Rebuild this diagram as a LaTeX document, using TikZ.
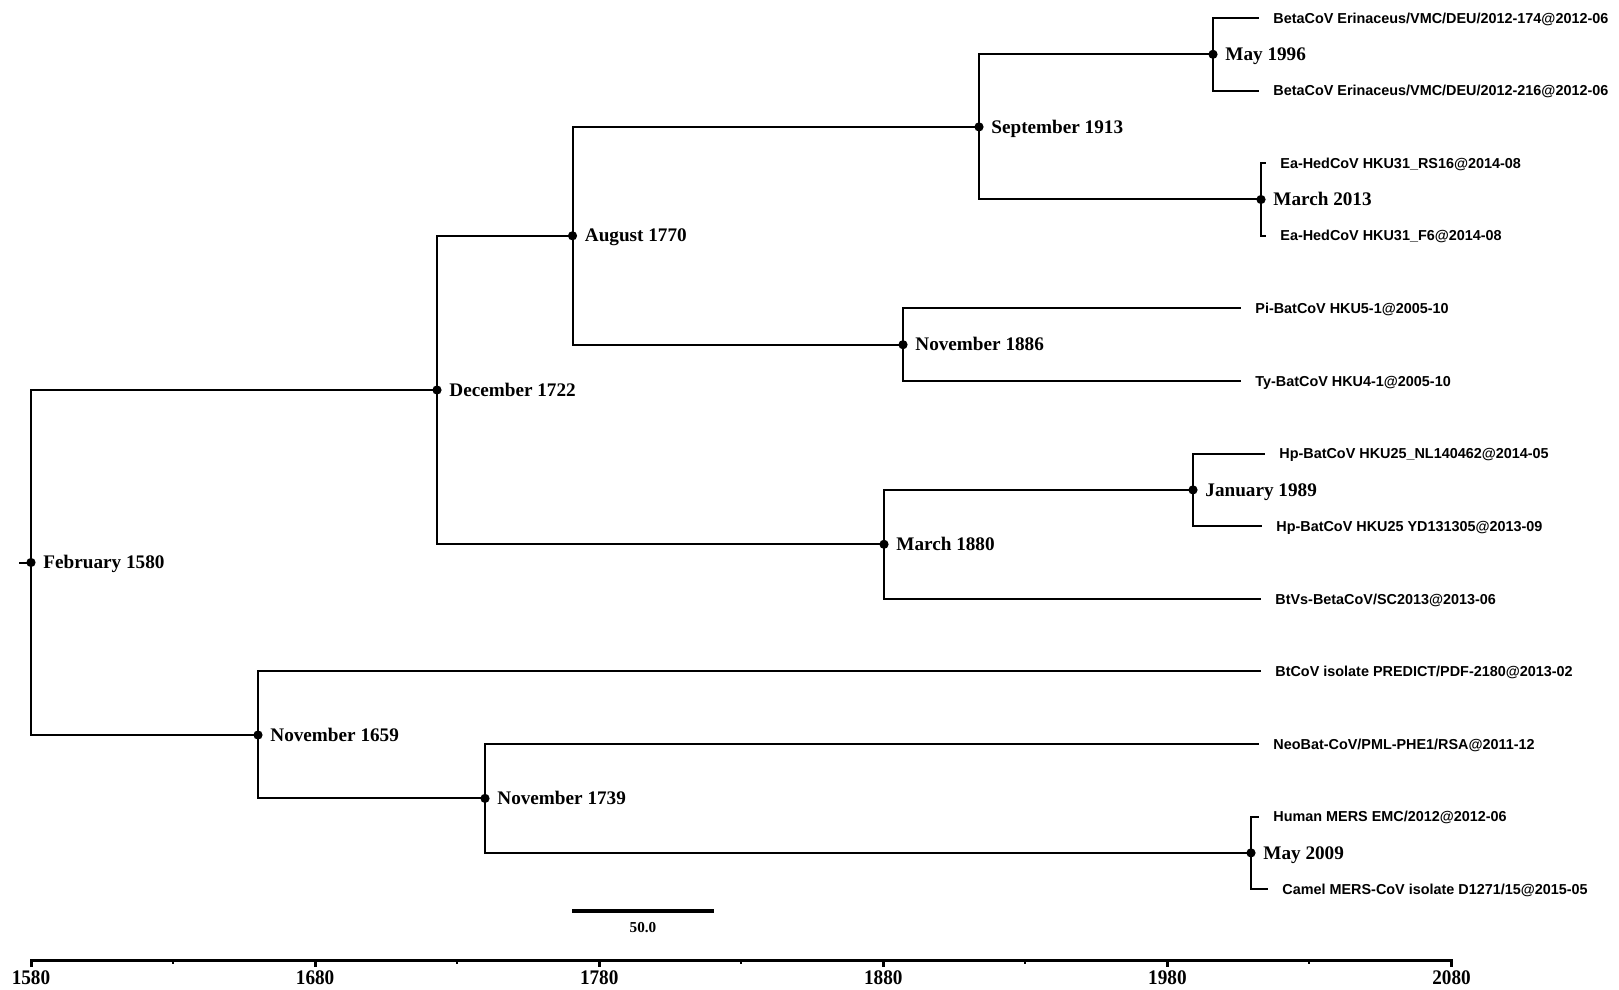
\documentclass[tikz,border=0pt]{standalone}
\usepackage{fontspec}
\setmainfont{Liberation Serif}
\setsansfont{Liberation Sans}
\begin{document}
\begin{tikzpicture}[x=0.5pt,y=-0.5pt,
  tree/.style={line width=1pt},
  dotnode/.style={circle,fill=black,inner sep=0pt,minimum size=4.6pt},
  datelbl/.style={font=\bfseries\fontsize{9.6}{11}\selectfont,inner sep=0pt,anchor=base west,xshift=6pt,yshift=-3.1pt},
  tiplbl/.style={font=\sffamily\bfseries\fontsize{7.2}{8.5}\selectfont,inner sep=0pt,anchor=base west,xshift=7pt,yshift=-2.6pt},
  axislbl/.style={font=\bfseries\fontsize{9.6}{11}\selectfont,inner sep=0pt,anchor=base},
  axisline/.style={line width=1.5pt}]
\useasboundingbox (0,0) rectangle (1619,990);
% internal nodes
\coordinate (c1580) at (31,562.5);
\coordinate (c1722) at (437,390);
\coordinate (c1659) at (258,735);
\coordinate (c1770) at (572.5,235.8);
\coordinate (c1880) at (884,544.3);
\coordinate (c1913) at (979,126.9);
\coordinate (c1886) at (903,344.7);
\coordinate (c1996) at (1213,54.3);
\coordinate (c2013) at (1261,199.5);
\coordinate (c1989) at (1193,489.9);
\coordinate (c1739) at (485,798.4);
\coordinate (c2009) at (1251,852.9);
\coordinate (root) at (19,562.5);
% tips
\coordinate (t1) at (1259,18);
\coordinate (t2) at (1259,90.6);
\coordinate (t3) at (1266,163.2);
\coordinate (t4) at (1266,235.8);
\coordinate (t5) at (1241,308.4);
\coordinate (t6) at (1241,381);
\coordinate (t7) at (1265,453.6);
\coordinate (t8) at (1262,526.2);
\coordinate (t9) at (1261,598.8);
\coordinate (t10) at (1261,671.4);
\coordinate (t11) at (1259,744);
\coordinate (t12) at (1259,816.6);
\coordinate (t13) at (1268,889.2);
% branches
\draw[tree] (root) -- (c1580);
\draw[tree] (c1580) |- (c1722);
\draw[tree] (c1580) |- (c1659);
\draw[tree] (c1722) |- (c1770);
\draw[tree] (c1722) |- (c1880);
\draw[tree] (c1770) |- (c1913);
\draw[tree] (c1770) |- (c1886);
\draw[tree] (c1913) |- (c1996);
\draw[tree] (c1913) |- (c2013);
\draw[tree] (c1996) |- (t1);
\draw[tree] (c1996) |- (t2);
\draw[tree] (c2013) |- (t3);
\draw[tree] (c2013) |- (t4);
\draw[tree] (c1886) |- (t5);
\draw[tree] (c1886) |- (t6);
\draw[tree] (c1880) |- (c1989);
\draw[tree] (c1880) |- (t9);
\draw[tree] (c1989) |- (t7);
\draw[tree] (c1989) |- (t8);
\draw[tree] (c1659) |- (t10);
\draw[tree] (c1659) |- (c1739);
\draw[tree] (c1739) |- (t11);
\draw[tree] (c1739) |- (c2009);
\draw[tree] (c2009) |- (t12);
\draw[tree] (c2009) |- (t13);
% dots and date labels
\foreach \n/\t in {1580/February 1580,1722/December 1722,1659/November 1659,1770/August 1770,1880/March 1880,1913/September 1913,1886/November 1886,1996/May 1996,2013/March 2013,1989/January 1989,1739/November 1739,2009/May 2009}{
  \node[dotnode] (n\n) at (c\n) {};
  \node[datelbl] (l\n) at (n\n.center) {\t};
}
% tip labels
\node[tiplbl] (lt1) at (t1) {BetaCoV Erinaceus/VMC/DEU/2012-174@2012-06};
\node[tiplbl] (lt2) at (t2) {BetaCoV Erinaceus/VMC/DEU/2012-216@2012-06};
\node[tiplbl] (lt3) at (t3) {Ea-HedCoV HKU31\_RS16@2014-08};
\node[tiplbl] (lt4) at (t4) {Ea-HedCoV HKU31\_F6@2014-08};
\node[tiplbl] (lt5) at (t5) {Pi-BatCoV HKU5-1@2005-10};
\node[tiplbl] (lt6) at (t6) {Ty-BatCoV HKU4-1@2005-10};
\node[tiplbl] (lt7) at (t7) {Hp-BatCoV HKU25\_NL140462@2014-05};
\node[tiplbl] (lt8) at (t8) {Hp-BatCoV HKU25 YD131305@2013-09};
\node[tiplbl] (lt9) at (t9) {BtVs-BetaCoV/SC2013@2013-06};
\node[tiplbl] (lt10) at (t10) {BtCoV isolate PREDICT/PDF-2180@2013-02};
\node[tiplbl] (lt11) at (t11) {NeoBat-CoV/PML-PHE1/RSA@2011-12};
\node[tiplbl] (lt12) at (t12) {Human MERS EMC/2012@2012-06};
\node[tiplbl] (lt13) at (t13) {Camel MERS-CoV isolate D1271/15@2015-05};
% scale bar
\coordinate (sbA) at (572,911);
\coordinate (sbB) at (714,911);
\draw[line width=1.6pt] (sbA) -- (sbB);
\node[axislbl,font=\bfseries\fontsize{7.6}{9}\selectfont] (sblbl) at (643,932) {50.0};
% time axis
\coordinate (axA) at (31,960);
\coordinate (axB) at (1451.5,960);
\draw[axisline] ([yshift=-3.5pt]axA) -- (axA) -- (axB) -- ([yshift=-3.5pt]axB);
\foreach \yr in {1680,1780,1880,1980}{
  \pgfmathsetmacro{\xx}{31+(\yr-1580)*2.841}
  \draw[axisline] (\xx,960) -- (\xx,967);
}
\foreach \yr in {1630,1730,1830,1930,2030}{
  \pgfmathsetmacro{\xx}{31+(\yr-1580)*2.841}
  \draw[line width=1pt] (\xx,960) -- (\xx,963.5);
}
\foreach \yr in {1580,1680,1780,1880,1980,2080}{
  \pgfmathsetmacro{\xx}{31+(\yr-1580)*2.841}
  \node[axislbl] (ax\yr) at (\xx,984) {\scalebox{1}[1.08]{\yr}};
}
\end{tikzpicture}
\end{document}
